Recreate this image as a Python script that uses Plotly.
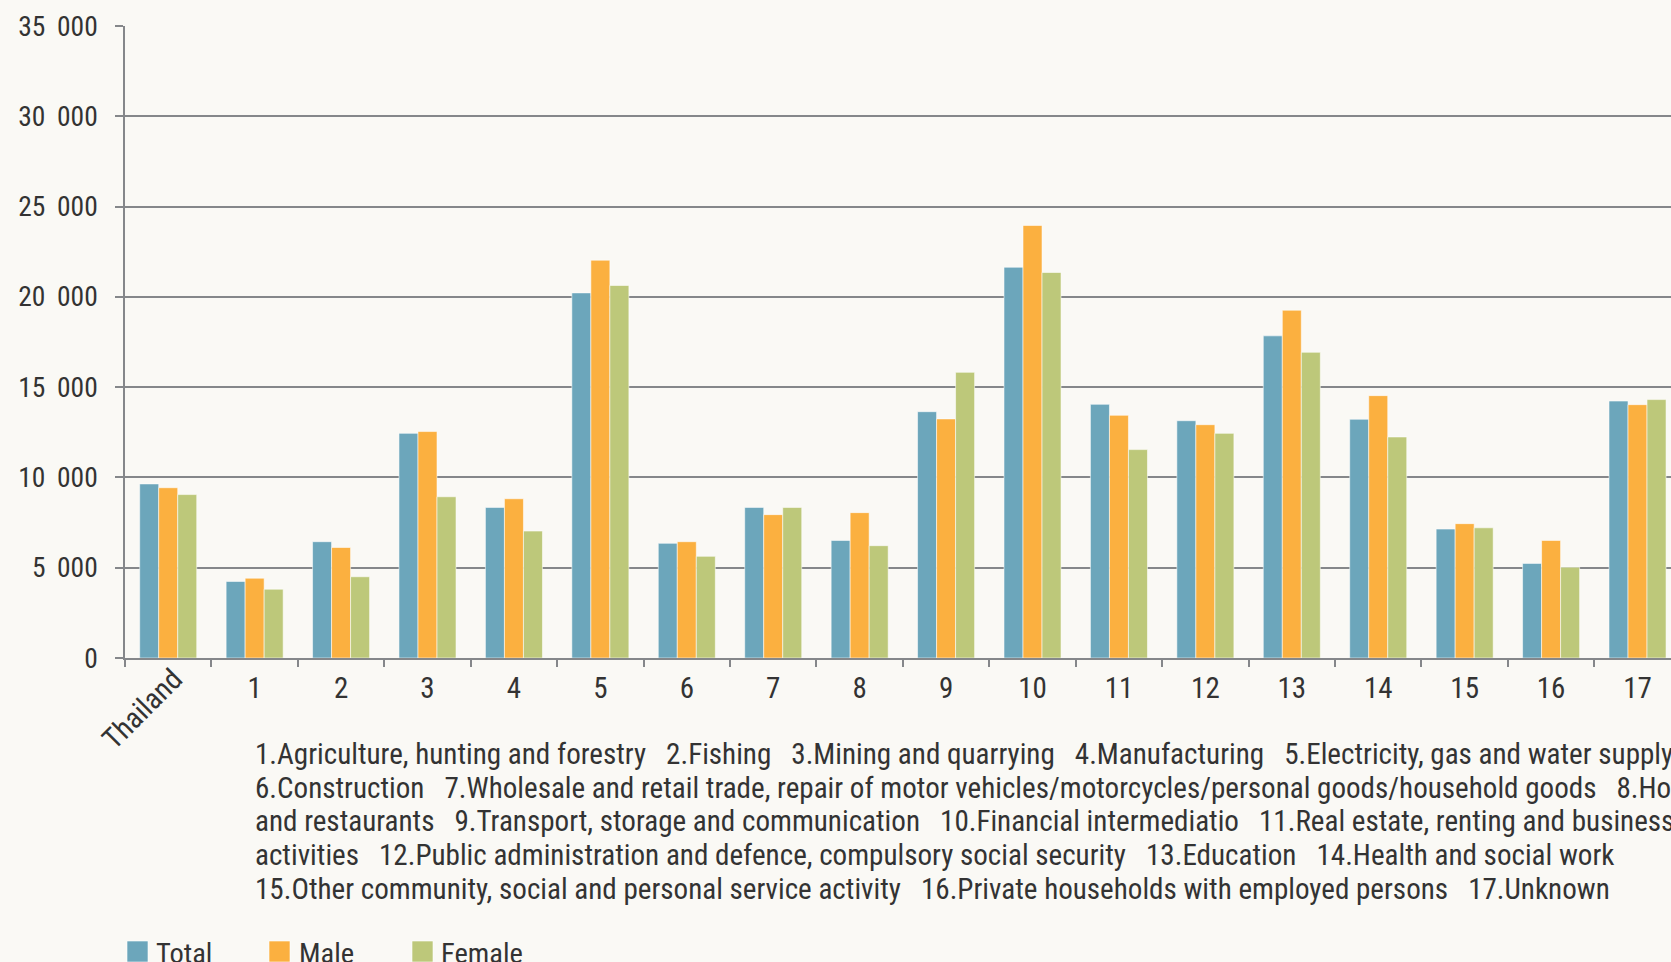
import plotly.graph_objects as go

# ---------------- data ----------------
categories = ["Thailand", "1", "2", "3", "4", "5", "6", "7", "8", "9",
              "10", "11", "12", "13", "14", "15", "16", "17"]
tick_labels = ["", "1", "2", "3", "4", "5", "6", "7", "8", "9",
               "10", "11", "12", "13", "14", "15", "16", "17"]
series_names = ["Total", "Male", "Female"]
total = [9640, 4240, 6440, 12440, 8340, 20220, 6350, 8340, 6510, 13640,
         21640, 14050, 13140, 17840, 13220, 7140, 5240, 14230]
male = [9430, 4420, 6120, 12540, 8820, 22030, 6440, 7940, 8050, 13240,
        23950, 13440, 12920, 19260, 14530, 7440, 6510, 14030]
female = [9050, 3810, 4500, 8930, 7030, 20630, 5630, 8340, 6220, 15820,
          21350, 11540, 12440, 16930, 12240, 7210, 5030, 14310]
y_tick_vals = [0, 5000, 10000, 15000, 20000, 25000, 30000, 35000]
y_tick_text = ["0", "5\u00a0\u2009000", "10\u00a0\u2009000", "15\u00a0\u2009000", "20\u00a0\u2009000",
               "25\u00a0\u2009000", "30\u00a0\u2009000", "35\u00a0\u2009000"]
footnote_lines = [
    "1.Agriculture, hunting and forestry   2.Fishing   3.Mining and quarrying   4.Manufacturing   5.Electricity, gas and water supply",
    "6.Construction   7.Wholesale and retail trade, repair of motor vehicles/motorcycles/personal goods/household goods   8.Hotels",
    "and restaurants   9.Transport, storage and communication   10.Financial intermediatio   11.Real estate, renting and business",
    "activities   12.Public administration and defence, compulsory social security   13.Education   14.Health and social work",
    "15.Other community, social and personal service activity   16.Private households with employed persons   17.Unknown",
]

# ---------------- style ----------------
colors = ["#6CA6BB", "#FBB040", "#BDC87A"]
BG = "#FAF9F5"
GRID = "#85878A"
TEXT = "#333333"
FONT = "Roboto Condensed, Archivo Narrow, DejaVu Sans Condensed, sans-serif"

W, H = 1671, 962
ML, MR, MT, MB = 125, 0, 26, 304
PW, PH = W - ML - MR, H - MT - MB


def px2x(px):
    return (px - ML) / PW


def py2y(py):
    return (H - MB - py) / PH


fig = go.Figure()
for name, vals, col in zip(series_names, [total, male, female], colors):
    fig.add_trace(go.Bar(
        name=name, x=categories, y=vals,
        marker=dict(color=col, line=dict(color="rgba(255,255,255,0.55)", width=1)),
        showlegend=False,
    ))

# footnote lines
line_centers = [753.5, 787.6, 820.7, 854.8, 888.9]
annotations = []
for txt, cy in zip(footnote_lines, line_centers):
    annotations.append(dict(
        text=txt.replace(" ", "\u00a0"), xref="paper", yref="paper",
        x=px2x(253), y=py2y(cy), xanchor="left", yanchor="middle",
        showarrow=False, font=dict(family=FONT, size=29.1, color=TEXT),
    ))

# rotated first category label
annotations.append(dict(
    text=categories[0], xref="x", yref="paper", x=categories[0], y=0,
    xshift=-26, yshift=-51, xanchor="center", yanchor="middle",
    textangle=-45, showarrow=False, font=dict(family=FONT, size=29, color=TEXT),
))

# custom legend
shapes = []
sq_left = [127, 269, 412]
txt_left = [154, 297, 439]
for name, col, sx, tx in zip(series_names, colors, sq_left, txt_left):
    shapes.append(dict(type="rect", xref="paper", yref="paper",
                       x0=px2x(sx), x1=px2x(sx + 21), y0=py2y(941), y1=py2y(962),
                       fillcolor=col, line=dict(color="rgba(255,255,255,0.6)", width=1)))
    annotations.append(dict(
        text=name, xref="paper", yref="paper", x=px2x(tx), y=py2y(953),
        xanchor="left", yanchor="middle", showarrow=False,
        font=dict(family=FONT, size=28.5, color=TEXT),
    ))

fig.update_layout(
    width=W, height=H,
    margin=dict(l=ML, r=MR, t=MT, b=MB, pad=0),
    paper_bgcolor=BG, plot_bgcolor=BG,
    barmode="group", bargap=0.34, bargroupgap=0,
    font=dict(family=FONT, size=25, color=TEXT),
    xaxis=dict(
        type="category", categoryorder="array", categoryarray=categories,
        tickmode="array", tickvals=categories, ticktext=tick_labels,
        range=[-0.5, -0.5 + (W - ML) / 86.43],
        tickson="boundaries", ticks="outside", ticklen=7, tickwidth=1.5, tickcolor=GRID,
        showline=True, linecolor=GRID, linewidth=1.5, showgrid=False,
        ticklabelstandoff=3, tickfont=dict(family=FONT, size=29, color=TEXT),
        fixedrange=True,
    ),
    yaxis=dict(
        range=[0, 35000], tickmode="array", tickvals=y_tick_vals, ticktext=y_tick_text,
        showgrid=True, gridcolor=GRID, gridwidth=1.5, zeroline=False,
        ticks="outside", ticklen=8, tickwidth=1.5, tickcolor=GRID,
        showline=True, linecolor=GRID, linewidth=1.5,
        ticklabelstandoff=12, tickfont=dict(family=FONT, size=27.5, color=TEXT),
        fixedrange=True,
    ),
    annotations=annotations, shapes=shapes,
)

fig.write_html(
    "out.html", config={"displayModeBar": False},
    post_script="document.body.style.margin='0';document.body.style.overflow='hidden';",
)
